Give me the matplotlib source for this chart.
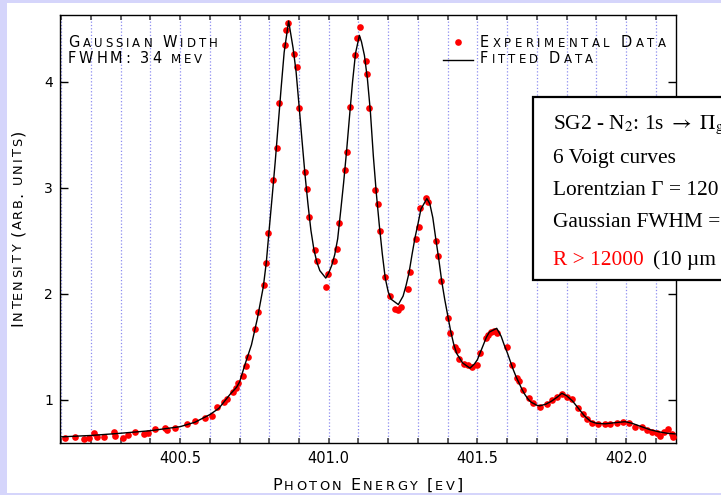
import numpy as np
import matplotlib
matplotlib.use("Agg")
import matplotlib.pyplot as plt
from matplotlib.patches import Rectangle
from matplotlib.lines import Line2D

# experimental points (photon energy in eV, intensity in arb. units)
exp_energy = [
    400.113, 400.147, 400.177, 400.192, 400.211, 400.220, 400.245, 400.276, 400.281, 400.309,
    400.326, 400.349, 400.377, 400.393, 400.416, 400.450, 400.457, 400.483, 400.523, 400.550,
    400.584, 400.607, 400.623, 400.648, 400.657, 400.679, 400.688, 400.696, 400.713, 400.721,
    400.730, 400.753, 400.762, 400.781, 400.789, 400.797, 400.812, 400.825, 400.833, 400.853,
    400.857, 400.864, 400.883, 400.893, 400.899, 400.920, 400.926, 400.932, 400.954, 400.962,
    400.990, 400.999, 401.016, 401.028, 401.034, 401.055, 401.063, 401.072, 401.089, 401.096,
    401.105, 401.125, 401.130, 401.137, 401.156, 401.164, 401.173, 401.188, 401.206, 401.223,
    401.234, 401.242, 401.265, 401.274, 401.293, 401.302, 401.307, 401.327, 401.335, 401.361,
    401.369, 401.376, 401.402, 401.408, 401.425, 401.433, 401.439, 401.455, 401.470, 401.481,
    401.500, 401.509, 401.529, 401.537, 401.546, 401.557, 401.567, 401.599, 401.616, 401.633,
    401.641, 401.653, 401.672, 401.688, 401.709, 401.733, 401.750, 401.767, 401.784, 401.801,
    401.818, 401.840, 401.855, 401.868, 401.885, 401.907, 401.930, 401.946, 401.969, 401.991,
    402.011, 402.030, 402.053, 402.070, 402.087, 402.103, 402.115, 402.126, 402.142, 402.154,
    402.157,
]
exp_intensity = [
    0.644, 0.646, 0.629, 0.644, 0.692, 0.654, 0.648, 0.701, 0.663, 0.639,
    0.667, 0.701, 0.679, 0.692, 0.724, 0.733, 0.717, 0.733, 0.774, 0.805,
    0.827, 0.849, 0.931, 0.984, 1.007, 1.078, 1.110, 1.163, 1.226, 1.321,
    1.403, 1.667, 1.833, 2.085, 2.290, 2.573, 3.075, 3.375, 3.799, 4.349,
    4.491, 4.554, 4.261, 4.144, 3.752, 3.148, 2.991, 2.724, 2.415, 2.311,
    2.069, 2.186, 2.311, 2.425, 2.667, 3.170, 3.337, 3.762, 4.255, 4.418,
    4.522, 4.201, 4.075, 3.752, 2.981, 2.846, 2.594, 2.163, 1.981, 1.856,
    1.849, 1.875, 2.050, 2.203, 2.519, 2.635, 2.814, 2.908, 2.871, 2.500,
    2.358, 2.125, 1.771, 1.629, 1.503, 1.472, 1.384, 1.340, 1.330, 1.314,
    1.330, 1.441, 1.582, 1.613, 1.644, 1.654, 1.635, 1.503, 1.330, 1.205,
    1.182, 1.094, 1.016, 0.969, 0.937, 0.962, 1.000, 1.031, 1.057, 1.031,
    1.007, 0.922, 0.868, 0.818, 0.786, 0.774, 0.774, 0.774, 0.786, 0.795,
    0.780, 0.748, 0.748, 0.717, 0.701, 0.686, 0.660, 0.701, 0.726, 0.679,
    0.654,
]

# fitted curve (sum of 6 Voigt profiles)
fit_energy = [
    400.10, 400.20, 400.30, 400.40, 400.50, 400.55, 400.60, 400.63, 400.65, 400.67,
    400.69, 400.70, 400.72, 400.74, 400.76, 400.78, 400.79, 400.80, 400.81, 400.82,
    400.83, 400.84, 400.85, 400.865, 400.88, 400.89, 400.90, 400.91, 400.92, 400.93,
    400.94, 400.95, 400.96, 400.97, 400.99, 401.00, 401.01, 401.02, 401.03, 401.04,
    401.05, 401.06, 401.07, 401.08, 401.09, 401.103, 401.11, 401.12, 401.13, 401.14,
    401.15, 401.16, 401.17, 401.18, 401.19, 401.20, 401.21, 401.234, 401.25, 401.26,
    401.27, 401.28, 401.29, 401.30, 401.31, 401.33, 401.34, 401.35, 401.36, 401.37,
    401.38, 401.39, 401.40, 401.41, 401.42, 401.43, 401.45, 401.475, 401.49, 401.50,
    401.51, 401.52, 401.53, 401.54, 401.565, 401.58, 401.59, 401.60, 401.61, 401.62,
    401.63, 401.64, 401.65, 401.66, 401.67, 401.68, 401.70, 401.71, 401.73, 401.75,
    401.77, 401.784, 401.80, 401.82, 401.84, 401.86, 401.88, 401.90, 401.93, 401.96,
    401.997, 402.02, 402.05, 402.08, 402.11, 402.14, 402.165,
]
fit_intensity = [
    0.652, 0.665, 0.686, 0.710, 0.748, 0.790, 0.862, 0.920, 0.990, 1.060,
    1.120, 1.170, 1.350, 1.520, 1.770, 2.070, 2.300, 2.620, 2.930, 3.250,
    3.600, 3.950, 4.280, 4.575, 4.320, 4.100, 3.780, 3.450, 3.130, 2.850,
    2.600, 2.420, 2.300, 2.220, 2.150, 2.200, 2.270, 2.370, 2.520, 2.780,
    3.050, 3.350, 3.680, 4.000, 4.270, 4.440, 4.380, 4.250, 4.030, 3.720,
    3.300, 2.950, 2.650, 2.380, 2.150, 2.020, 1.950, 1.900, 1.980, 2.080,
    2.200, 2.370, 2.530, 2.660, 2.800, 2.900, 2.850, 2.720, 2.520, 2.330,
    2.120, 1.950, 1.800, 1.650, 1.530, 1.440, 1.350, 1.300, 1.340, 1.380,
    1.450, 1.520, 1.590, 1.640, 1.676, 1.600, 1.520, 1.450, 1.370, 1.290,
    1.220, 1.160, 1.100, 1.050, 1.010, 0.980, 0.950, 0.945, 0.960, 0.990,
    1.030, 1.063, 1.040, 0.990, 0.920, 0.850, 0.800, 0.780, 0.775, 0.785,
    0.795, 0.780, 0.750, 0.720, 0.700, 0.685, 0.680,
]

major_ticks = [400.5, 401.0, 401.5, 402.0]
major_labels = ["400.5", "401.0", "401.5", "402.0"]
minor_ticks = np.round(np.arange(400.1, 402.15, 0.1), 2)
y_ticks = [1, 2, 3, 4]

W, H = 721, 495
fig = plt.figure(figsize=(W / 100, H / 100), dpi=100, facecolor="#d5d5fb")
# white slide panel
fig.add_artist(Rectangle((7 / W, 2 / H), (W - 7) / W, (H - 5) / H,
                         transform=fig.transFigure, facecolor="white",
                         edgecolor="none", zorder=-1))

ax = fig.add_axes([60 / W, (H - 443) / H, 616 / W, 428 / H])
ax.plot(exp_energy, exp_intensity, "o", color="#ff0000", ms=4.8, mec="none", zorder=3)
ax.plot(fit_energy, fit_intensity, "-", color="black", lw=1.0, zorder=4)

ax.set_xlim(400.096, 402.168)
ax.set_ylim(0.594, 4.632)
ax.set_xticks(major_ticks)
ax.set_xticklabels(major_labels)
ax.set_xticks(minor_ticks, minor=True)
ax.set_yticks(y_ticks)
ax.grid(which="both", axis="x", color="#8c8cf0", linestyle=":", linewidth=0.9)
ax.tick_params(axis="x", which="both", direction="in", top=True, bottom=True,
               length=3.8, width=1.2, color="#444444", labelsize=10.5, pad=6)
ax.tick_params(axis="y", which="both", direction="in", left=True, right=True,
               length=5.8, width=1.0, labelsize=10, pad=5)
for lab in ax.get_xticklabels() + ax.get_yticklabels():
    lab.set_family("DejaVu Sans")
for sp in ax.spines.values():
    sp.set_linewidth(1.0)

renderer = fig.canvas.get_renderer()


def spaced_caps(x, y, s, big, small, width, angle=0, color="black"):
    """Small-caps style text, one glyph at a time, spread to a given pixel width.
    x, y are pixels measured from the top-left corner of the image."""
    px = 100 / 72
    glyphs = []
    for ch in s:
        if ch == " ":
            glyphs.append((None, 0.30 * big * px, big))
            continue
        size = small if ch.islower() else big
        t = fig.text(0, 0, ch.upper(), fontsize=size, family="DejaVu Sans")
        glyphs.append((ch.upper(), t.get_window_extent(renderer).width, size))
        t.remove()
    natural = sum(g[1] for g in glyphs)
    track = max((width - natural) / max(len(glyphs) - 1, 1), 0.5)
    a = np.deg2rad(angle)
    pos = 0.0
    for ch, w, size in glyphs:
        if ch is not None:
            fx = x + pos * np.cos(a)
            fy = y - pos * np.sin(a)
            fig.text(fx / W, 1 - fy / H, ch, fontsize=size, family="DejaVu Sans",
                     color=color, ha="left", va="baseline", rotation=angle,
                     rotation_mode="anchor")
        pos += w + track


# axis labels
spaced_caps(272, 489.5, "Photon Energy [ev]", 11.5, 9.3, 191)
spaced_caps(22, 326, "Intensity (arb. units)", 11.5, 9.3, 196, angle=90)

# annotation and legend
spaced_caps(68, 46.7, "Gaussian Width", 10.5, 8.5, 150)
spaced_caps(68, 63.3, "FWHM: 34 mev", 10.5, 8.5, 134)
spaced_caps(480, 46.7, "Experimental Data", 10.5, 8.5, 186)
spaced_caps(480, 63.3, "Fitted Data", 10.5, 8.5, 113)
fig.add_artist(Line2D([458 / W], [1 - 42 / H], marker="o", color="#ff0000",
                      ms=4.8, mec="none", transform=fig.transFigure))
fig.add_artist(Line2D([443 / W, 473 / W], [1 - 60 / H] * 2, color="black",
                      lw=1.0, transform=fig.transFigure))

# info box (runs off the right edge of the slide, as in the original)
plt.rcParams["mathtext.fontset"] = "stix"
fig.add_artist(Rectangle((532.7 / W, 1 - 280 / H), 300 / W, 182.7 / H,
                         transform=fig.transFigure, facecolor="white",
                         edgecolor="black", linewidth=1.6, zorder=5))
serif = dict(family="Liberation Serif", fontsize=15.4, ha="left", va="baseline", zorder=6)
fig.text(553 / W, 1 - 129.3 / H, r"SG2 - N$_2$: 1s $\rightarrow$ $\Pi_\mathrm{g}$", **serif)
fig.text(553 / W, 1 - 162.7 / H, "6 Voigt curves", **serif)
fig.text(553 / W, 1 - 195 / H, "Lorentzian \u0393 = 120 meV", **serif)
fig.text(553 / W, 1 - 226.7 / H, "Gaussian FWHM = 34 meV", **serif)
fig.text(553 / W, 1 - 265 / H, "R > 12000", color="#ff0000", **serif)
fig.text(653 / W, 1 - 265 / H, "(10 \u00b5m slit)", **serif)

fig.savefig("out.png", dpi=100, facecolor=fig.get_facecolor())
